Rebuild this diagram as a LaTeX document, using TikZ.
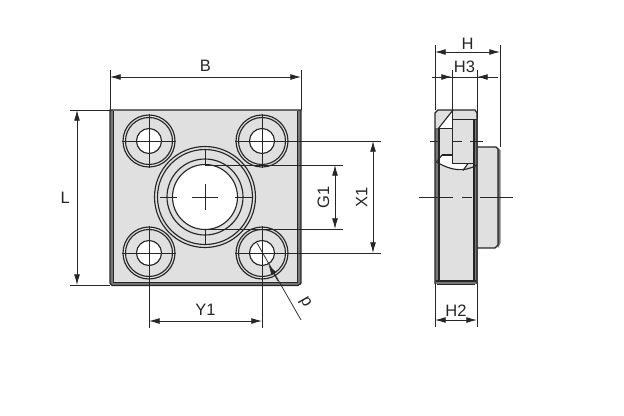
\documentclass[tikz,border=0pt]{standalone}
\usepackage{fontspec}
\setmainfont{Liberation Sans}
\usetikzlibrary{arrows.meta}
\definecolor{platefill}{HTML}{E0E0E0}
\definecolor{edgegray}{HTML}{777777}
\definecolor{inkline}{HTML}{262626}
\tikzset{
  tipend/.tip={Latex[length=8pt,width=4.4pt]},
  dimline/.style={inkline, line width=0.6pt, tipend-tipend},
  extline/.style={inkline, line width=0.6pt},
  outline/.style={inkline, line width=0.85pt},
  dimtext/.style={font=\fontsize{12.4}{14}\selectfont, text=inkline, inner sep=0pt}
}
\begin{document}
\begin{tikzpicture}[x=0.75pt,y=-0.75pt]
\useasboundingbox (0,0) rectangle (624,415);
% front view, plate
\fill[platefill] (110,110) rectangle (301,285);
\fill[edgegray] (110,110) rectangle (113,285);
\fill[edgegray] (298,110) rectangle (301,285);
\fill[edgegray] (110,283) rectangle (301,285);
\draw[outline] (110,110) -- (301,110) -- (301,283) -- (298,285.5) -- (112,285.5) -- (110,283) -- cycle;
\draw[outline] (113.5,111) -- (113.5,282.5) -- (297.5,282.5) -- (297.5,111);
% bores on the corners
\foreach \cx/\cy in {149/141, 262/141, 149/253, 262/253} {
  \draw[outline] (\cx,\cy) circle[radius=26];
  \draw[outline] (\cx,\cy) circle[radius=23.5];
  \fill[white] (\cx,\cy) circle[radius=12.5];
  \draw[outline] (\cx,\cy) circle[radius=12.5];
  \draw[extline] (\cx-27,\cy) -- (\cx+27,\cy);
  \draw[extline] (\cx,\cy-27) -- (\cx,\cy+27);
}
% hub
\draw[outline] (205,197) circle[radius=50.5];
\draw[outline] (205,197) circle[radius=47.5];
\draw[outline] (205,197) circle[radius=38];
\fill[white] (205,197) circle[radius=32.5];
\draw[outline] (205,197) circle[radius=32.5];
\draw[extline] (192,197) -- (218,197);
\draw[extline] (205,184) -- (205,210);
\draw[extline] (160,197) -- (177,197);
\draw[extline] (235,197) -- (252,197);
\draw[extline] (205,150) -- (205,166);
\draw[extline] (205,229) -- (205,245);
% dimensions of the front view
\draw[extline] (110,70) -- (110,110);
\draw[extline] (301,70) -- (301,110);
\draw[dimline] (110,77) -- (301,77) node[dimtext, midway, above=4pt] (lblB) {B};
\draw[extline] (70,110) -- (110,110);
\draw[extline] (70,285) -- (110,285);
\draw[dimline] (77,110) -- (77,285) node[dimtext, midway, left=5pt] (lblL) {L};
\draw[extline] (149,253) -- (149,328);
\draw[extline] (262,253) -- (262,328);
\draw[dimline] (149,321) -- (262,321) node[dimtext, midway, above=3.5pt] (lblYa) {Y1};
\draw[extline] (262,141) -- (381,141);
\draw[extline] (262,253) -- (381,253);
\draw[dimline] (373,141) -- (373,253) node[dimtext, midway, left=4pt, rotate=90, anchor=south] (lblXa) {X1};
\draw[extline] (205,165) -- (343,165);
\draw[extline] (205,229) -- (343,229);
\draw[dimline] (335,165) -- (335,229) node[dimtext, midway, left=4pt, rotate=90, anchor=south] (lblGa) {G1};
\draw[extline] (257,243) -- (301,320);
\draw[extline, tipend-] (268.5,264.5) -- (278,281);
\node[dimtext, rotate=120] (lblD) at (305,302) {d};
% side view
\fill[platefill] (435,110) rectangle (477,284);
\fill[platefill] (477,147) rectangle (498,248);
\fill[edgegray] (435,128) rectangle (439,284);
\fill[edgegray] (474,119) rectangle (478,284);
\fill[edgegray] (437,281) rectangle (476,284);
\fill[edgegray] (498,148) -- (500.5,150) -- (500.5,243) -- (498,248) -- cycle;
\fill[white] (439,128) -- (452,112) -- (452,128) -- cycle;
\fill[white] (436.5,162) -- (442,155) -- (452,155) -- (452,163.5) -- (468,163.5) -- (463,170.5) .. controls (454,170.5) and (445,167) .. (436.5,162) -- cycle;
% outline of the side view
\draw[outline] (435,284) -- (435,113) -- (438,110) -- (475,110) -- (477,113) -- (477,284);
\draw[outline] (439,128) -- (439,281);
\draw[outline] (474,119) -- (474,281);
\draw[outline] (436,281) -- (476,281);
\draw[outline] (437,284.5) -- (475,284.5);
\draw[outline] (438,129) -- (453,110);
\draw[outline] (438,128.5) -- (452,128.5);
\draw[outline] (442,155) -- (452,155);
\draw[outline] (452.5,110) -- (452.5,163.5) -- (474,163.5);
\draw[outline] (452,119.5) -- (477,119.5);
\draw[outline] (436.5,162) -- (442,155);
\draw[outline] (436.5,162) .. controls (450,170) and (463,173) .. (477,165);
\draw[outline] (463,170.5) -- (468,163.5);
\draw[outline] (477,147) -- (496,147) -- (498,149) -- (498,245) -- (495,248) -- (477,248);
\draw[extline] (430,141) -- (438,141);
\draw[extline] (453,141) -- (462,141);
\draw[extline] (470,141) -- (483,141);
\draw[extline] (419,197) -- (453,197);
\draw[extline] (462,197) -- (472,197);
\draw[extline] (480,197) -- (513,197);
% dimensions of the side view
\draw[extline] (435,45) -- (435,110);
\draw[extline] (500,45) -- (500,147);
\draw[dimline] (435,52) -- (500,52) node[dimtext, midway, above=1.5pt] (lblH) {H};
\draw[extline] (452,70) -- (452,119);
\draw[extline] (477,70) -- (477,119);
\draw[extline] (432,77) -- (498,77);
\draw[extline, -tipend] (438,77) -- (452,77);
\draw[extline, -tipend] (491,77) -- (477,77);
\node[dimtext] (lblHc) at (464.5,67) {H3};
\draw[extline] (435,284) -- (435,327);
\draw[extline] (477,284) -- (477,327);
\draw[dimline] (435,320) -- (477,320) node[dimtext, midway, above=2.5pt] (lblHb) {H2};
\end{tikzpicture}
\end{document}
